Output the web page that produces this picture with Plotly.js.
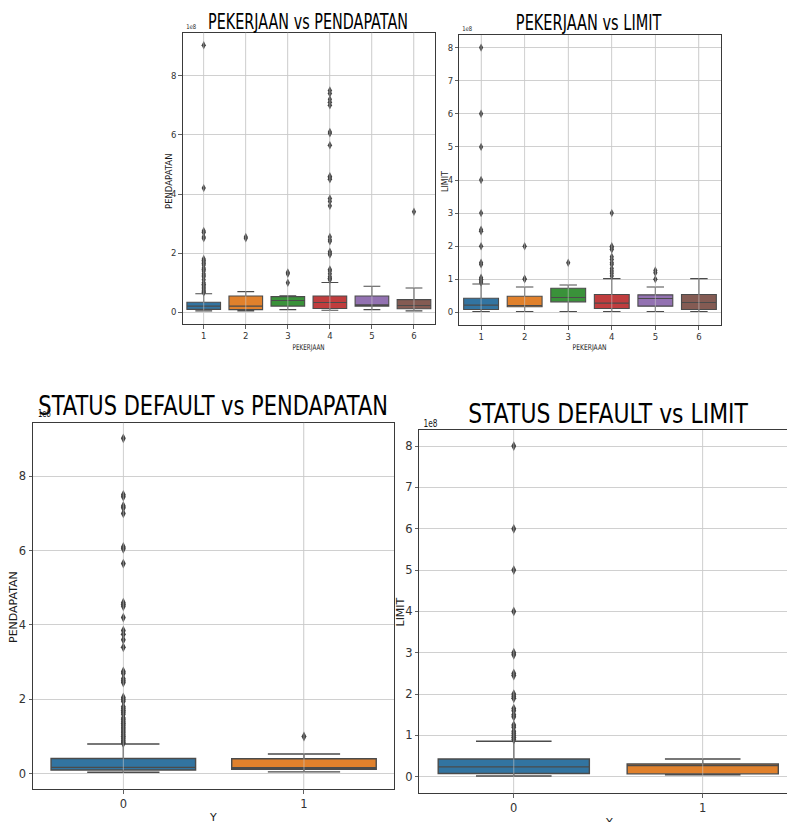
<!DOCTYPE html>
<html>
<head>
<meta charset="utf-8">
<script src="https://cdn.plot.ly/plotly-3.0.1.min.js"></script>
<style>html,body{margin:0;padding:0;background:#fff;}#chart{width:787px;height:822px;}</style>
</head>
<body>
<div id="chart"></div>
<script>
// ---- data (values in units of 1e8) ----
const jobCategories = ['1', '2', '3', '4', '5', '6'];
const statusCategories = ['0', '1'];
const jobColors = ['#3274a1', '#e1812c', '#3a923a', '#c03d3e', '#9372b2', '#845b53'];
const statusColors = ['#3274a1', '#e1812c'];

// PEKERJAAN vs PENDAPATAN
const incomeJobLower  = [0.05, 0.05, 0.09, 0.07, 0.09, 0.05];
const incomeJobQ1     = [0.10, 0.09, 0.21, 0.13, 0.21, 0.12];
const incomeJobMedian = [0.21, 0.21, 0.40, 0.33, 0.25, 0.23];
const incomeJobQ3     = [0.34, 0.55, 0.53, 0.55, 0.55, 0.43];
const incomeJobUpper  = [0.63, 0.70, 0.56, 1.01, 0.88, 0.82];
const incomeJobOutliers = [
  [0.67, 0.7, 0.75, 0.8, 0.85, 0.9, 0.95, 1.0, 1.1, 1.2, 1.25, 1.3, 1.4, 1.45, 1.5, 1.6, 1.65, 1.7, 1.75, 1.8, 2.5, 2.55, 2.7, 2.75, 4.2, 9.03],
  [2.5, 2.55],
  [1.0, 1.3, 1.35],
  [1.1, 1.15, 1.2, 1.3, 1.4, 1.45, 1.95, 2.0, 2.05, 2.4, 2.45, 2.55, 3.6, 3.75, 3.85, 4.5, 4.55, 4.6, 5.65, 6.05, 6.1, 7.0, 7.1, 7.2, 7.4, 7.5],
  [],
  [3.4]
];

// PEKERJAAN vs LIMIT
const limitJobLower  = [0.03, 0.03, 0.03, 0.03, 0.03, 0.03];
const limitJobQ1     = [0.09, 0.17, 0.32, 0.12, 0.19, 0.09];
const limitJobMedian = [0.22, 0.21, 0.45, 0.28, 0.42, 0.30];
const limitJobQ3     = [0.43, 0.49, 0.73, 0.54, 0.53, 0.54];
const limitJobUpper  = [0.86, 0.77, 0.83, 1.02, 0.77, 1.02];
const limitJobOutliers = [
  [0.9, 0.95, 1.0, 1.05, 1.45, 1.5, 2.0, 2.45, 2.5, 3.0, 4.0, 5.0, 6.0, 8.0],
  [1.0, 1.02, 2.0],
  [1.5],
  [1.1, 1.18, 1.25, 1.33, 1.45, 1.5, 1.6, 1.68, 1.9, 1.95, 2.0, 3.0],
  [1.0, 1.2, 1.27],
  []
];

// STATUS DEFAULT vs PENDAPATAN
const incomeStatusLower  = [0.04, 0.05];
const incomeStatusQ1     = [0.10, 0.12];
const incomeStatusMedian = [0.17, 0.16];
const incomeStatusQ3     = [0.41, 0.40];
const incomeStatusUpper  = [0.80, 0.53];
const incomeStatusOutliers = [
  [0.82, 0.85, 0.9, 0.95, 1.0, 1.05, 1.1, 1.15, 1.2, 1.25, 1.3, 1.35, 1.4, 1.45, 1.5, 1.6, 1.65, 1.7, 1.75, 1.8, 1.95, 2.0, 2.05, 2.45, 2.5, 2.55, 2.7, 2.75, 3.4, 3.6, 3.75, 3.85, 4.2, 4.5, 4.55, 4.6, 5.65, 6.05, 6.1, 7.0, 7.15, 7.2, 7.45, 7.5, 9.02],
  [1.0]
];

// STATUS DEFAULT vs LIMIT
const limitStatusLower  = [0.02, 0.05];
const limitStatusQ1     = [0.08, 0.07];
const limitStatusMedian = [0.24, 0.27];
const limitStatusQ3     = [0.43, 0.31];
const limitStatusUpper  = [0.86, 0.43];
const limitStatusOutliers = [
  [0.9, 0.95, 1.0, 1.05, 1.1, 1.2, 1.25, 1.45, 1.5, 1.6, 1.65, 1.9, 1.95, 2.0, 2.45, 2.5, 2.95, 3.0, 4.0, 5.0, 6.0, 8.0],
  []
];

// ---- build ----
const W = 787, H = 822;
const px = v => v / W;
const py = v => 1 - v / H;
const FONT = 'DejaVu Sans, Liberation Sans, sans-serif';
const EDGE = '#4b4b4b';
const FLIER = '#404040';

const traces = [];
const shapes = [];

function addPanel(axId, cats, colors, lower, q1, med, q3, upper, outliers, markerSize, lw) {
  const xa = 'x' + (axId === 1 ? '' : axId);
  const ya = 'y' + (axId === 1 ? '' : axId);
  cats.forEach((c, i) => {
    traces.push({
      type: 'box', x: [c], q1: [q1[i]], median: [med[i]], q3: [q3[i]],
      lowerfence: [lower[i]], upperfence: [upper[i]],
      xaxis: xa, yaxis: ya, width: 0.8, whiskerwidth: 0.5,
      fillcolor: colors[i], line: {color: EDGE, width: lw},
      boxpoints: false, hoverinfo: 'skip', showlegend: false
    });
    if (outliers[i].length) {
      traces.push({
        type: 'scatter', mode: 'markers', x: outliers[i].map(() => c), y: outliers[i],
        xaxis: xa, yaxis: ya,
        marker: {symbol: 'diamond-tall', size: markerSize, color: FLIER, line: {width: 0}},
        hoverinfo: 'skip', showlegend: false
      });
    }
    shapes.push({type: 'line', xref: xa, yref: ya + ' domain', x0: i, x1: i, y0: 0, y1: 1,
      line: {color: 'rgba(205,205,205,0.55)', width: 1}, layer: 'above'});
  });
}

addPanel(1, jobCategories, jobColors, incomeJobLower, incomeJobQ1, incomeJobMedian, incomeJobQ3, incomeJobUpper, incomeJobOutliers, 6, 1.1);
addPanel(2, jobCategories, jobColors, limitJobLower, limitJobQ1, limitJobMedian, limitJobQ3, limitJobUpper, limitJobOutliers, 6, 1.1);
addPanel(3, statusCategories, statusColors, incomeStatusLower, incomeStatusQ1, incomeStatusMedian, incomeStatusQ3, incomeStatusUpper, incomeStatusOutliers, 7, 1.4);
addPanel(4, statusCategories, statusColors, limitStatusLower, limitStatusQ1, limitStatusMedian, limitStatusQ3, limitStatusUpper, limitStatusOutliers, 7, 1.4);

function xAxis(x0, x1, range, anchor, fs, mirror) {
  return {domain: [px(x0), px(x1)], type: 'category', range: range, anchor: anchor,
    showgrid: true, gridcolor: '#cfcfcf', gridwidth: 0.8, zeroline: false,
    showline: true, mirror: mirror, linecolor: '#3a3a3a', linewidth: 1,
    ticks: 'outside', ticklen: 3.5, tickcolor: '#3a3a3a', tickwidth: 0.8,
    tickfont: {family: FONT, size: fs, color: '#333'}, fixedrange: true};
}
function yAxis(t0, t1, range, dtick, anchor, fs, mirror) {
  return {domain: [py(t1), py(t0)], range: range, dtick: dtick, tick0: 0, anchor: anchor,
    showgrid: true, gridcolor: '#c4c4c4', gridwidth: 0.8, zeroline: false,
    showline: true, mirror: mirror, linecolor: '#3a3a3a', linewidth: 1,
    ticks: 'outside', ticklen: 3.5, tickcolor: '#3a3a3a', tickwidth: 0.8,
    tickfont: {family: FONT, size: fs, color: '#333'}, fixedrange: true};
}

function ann(text, x, y, size, opts) {
  return Object.assign({text: text, xref: 'paper', yref: 'paper', x: px(x), y: py(y),
    xanchor: 'center', yanchor: 'middle', showarrow: false,
    font: {family: FONT, size: size, color: '#1a1a1a'}}, opts || {});
}

const titleInfo = [
  {text: 'PEKERJAAN vs PENDAPATAN', x: 308, y: 21, size: 22, w: 200},
  {text: 'PEKERJAAN vs LIMIT', x: 589, y: 23, size: 20.5, w: 146},
  {text: 'STATUS DEFAULT vs PENDAPATAN', x: 213, y: 406, size: 27, w: 350},
  {text: 'STATUS DEFAULT vs LIMIT', x: 608, y: 414, size: 26, w: 280}
];

const annotations = titleInfo.map(t => ann(t.text, t.x, t.y, t.size, {font: {family: FONT, size: t.size, color: '#000'}}));
annotations.push(
  ann('1e8', 182.5, 27, 6.5, {xanchor: 'left'}),
  ann('1e8', 459, 29, 6.5, {xanchor: 'left'}),
  ann('1e8', 33, 413, 10, {xanchor: 'left'}),
  ann('1e8', 419, 423, 10, {xanchor: 'left'}),
  ann('PENDAPATAN', 169, 181, 8.5, {textangle: -90}),
  ann('LIMIT', 445, 182, 8, {textangle: -90}),
  ann('PENDAPATAN', 13, 607, 11, {textangle: -90}),
  ann('LIMIT', 399.5, 612, 11, {textangle: -90}),
  ann('PEKERJAAN', 308.5, 347, 8),
  ann('PEKERJAAN', 589.7, 348, 8),
  ann('Y', 213, 817, 11),
  ann('Y', 608.7, 822, 11)
);
const squish = {4: 10, 5: 10, 6: 13, 7: 14, 12: 32, 13: 34};

const layout = {
  width: W, height: H, autosize: false,
  margin: {l: 0, r: 0, t: 0, b: 0, pad: 0},
  paper_bgcolor: '#ffffff', plot_bgcolor: '#ffffff',
  font: {family: FONT},
  showlegend: false,
  boxmode: 'overlay',
  xaxis:  xAxis(182.7, 435, [-0.5, 5.5], 'y', 8.5, true),
  yaxis:  yAxis(32.5, 324, [-0.395, 9.46], 2, 'x', 8.5, true),
  xaxis2: xAxis(459.3, 720.7, [-0.5, 5.5], 'y2', 8.5, true),
  yaxis2: yAxis(35, 325, [-0.38, 8.38], 1, 'x2', 8.5, true),
  xaxis3: xAxis(33, 394.3, [-0.5, 1.5], 'y3', 11.5, true),
  yaxis3: yAxis(422.7, 789.3, [-0.42, 9.44], 2, 'x3', 11.5, true),
  xaxis4: xAxis(419.3, 787, [-0.5, 1.446], 'y4', 11.5, true),
  yaxis4: yAxis(430, 793.3, [-0.40, 8.39], 1, 'x4', 11.5, false),
  shapes: shapes,
  annotations: annotations
};

Plotly.newPlot('chart', traces, layout, {staticPlot: true, displayModeBar: false}).then(() => {
  const targets = {};
  titleInfo.forEach((t, i) => { targets[i] = t.w; });
  Object.keys(squish).forEach(k => { targets[k] = squish[k]; });
  document.querySelectorAll('#chart g.annotation').forEach(g => {
    const idx = g.getAttribute('data-index');
    if (targets[idx] === undefined) return;
    const txt = g.querySelector('text.annotation-text');
    if (!txt) return;
    const bb = txt.getBBox();
    if (!bb.width) return;
    const s = targets[idx] / bb.width;
    const cx = bb.x + bb.width / 2;
    txt.setAttribute('transform', 'translate(' + cx + ',0) scale(' + s + ',1) translate(' + (-cx) + ',0)');
  });
});
</script>
</body>
</html>
